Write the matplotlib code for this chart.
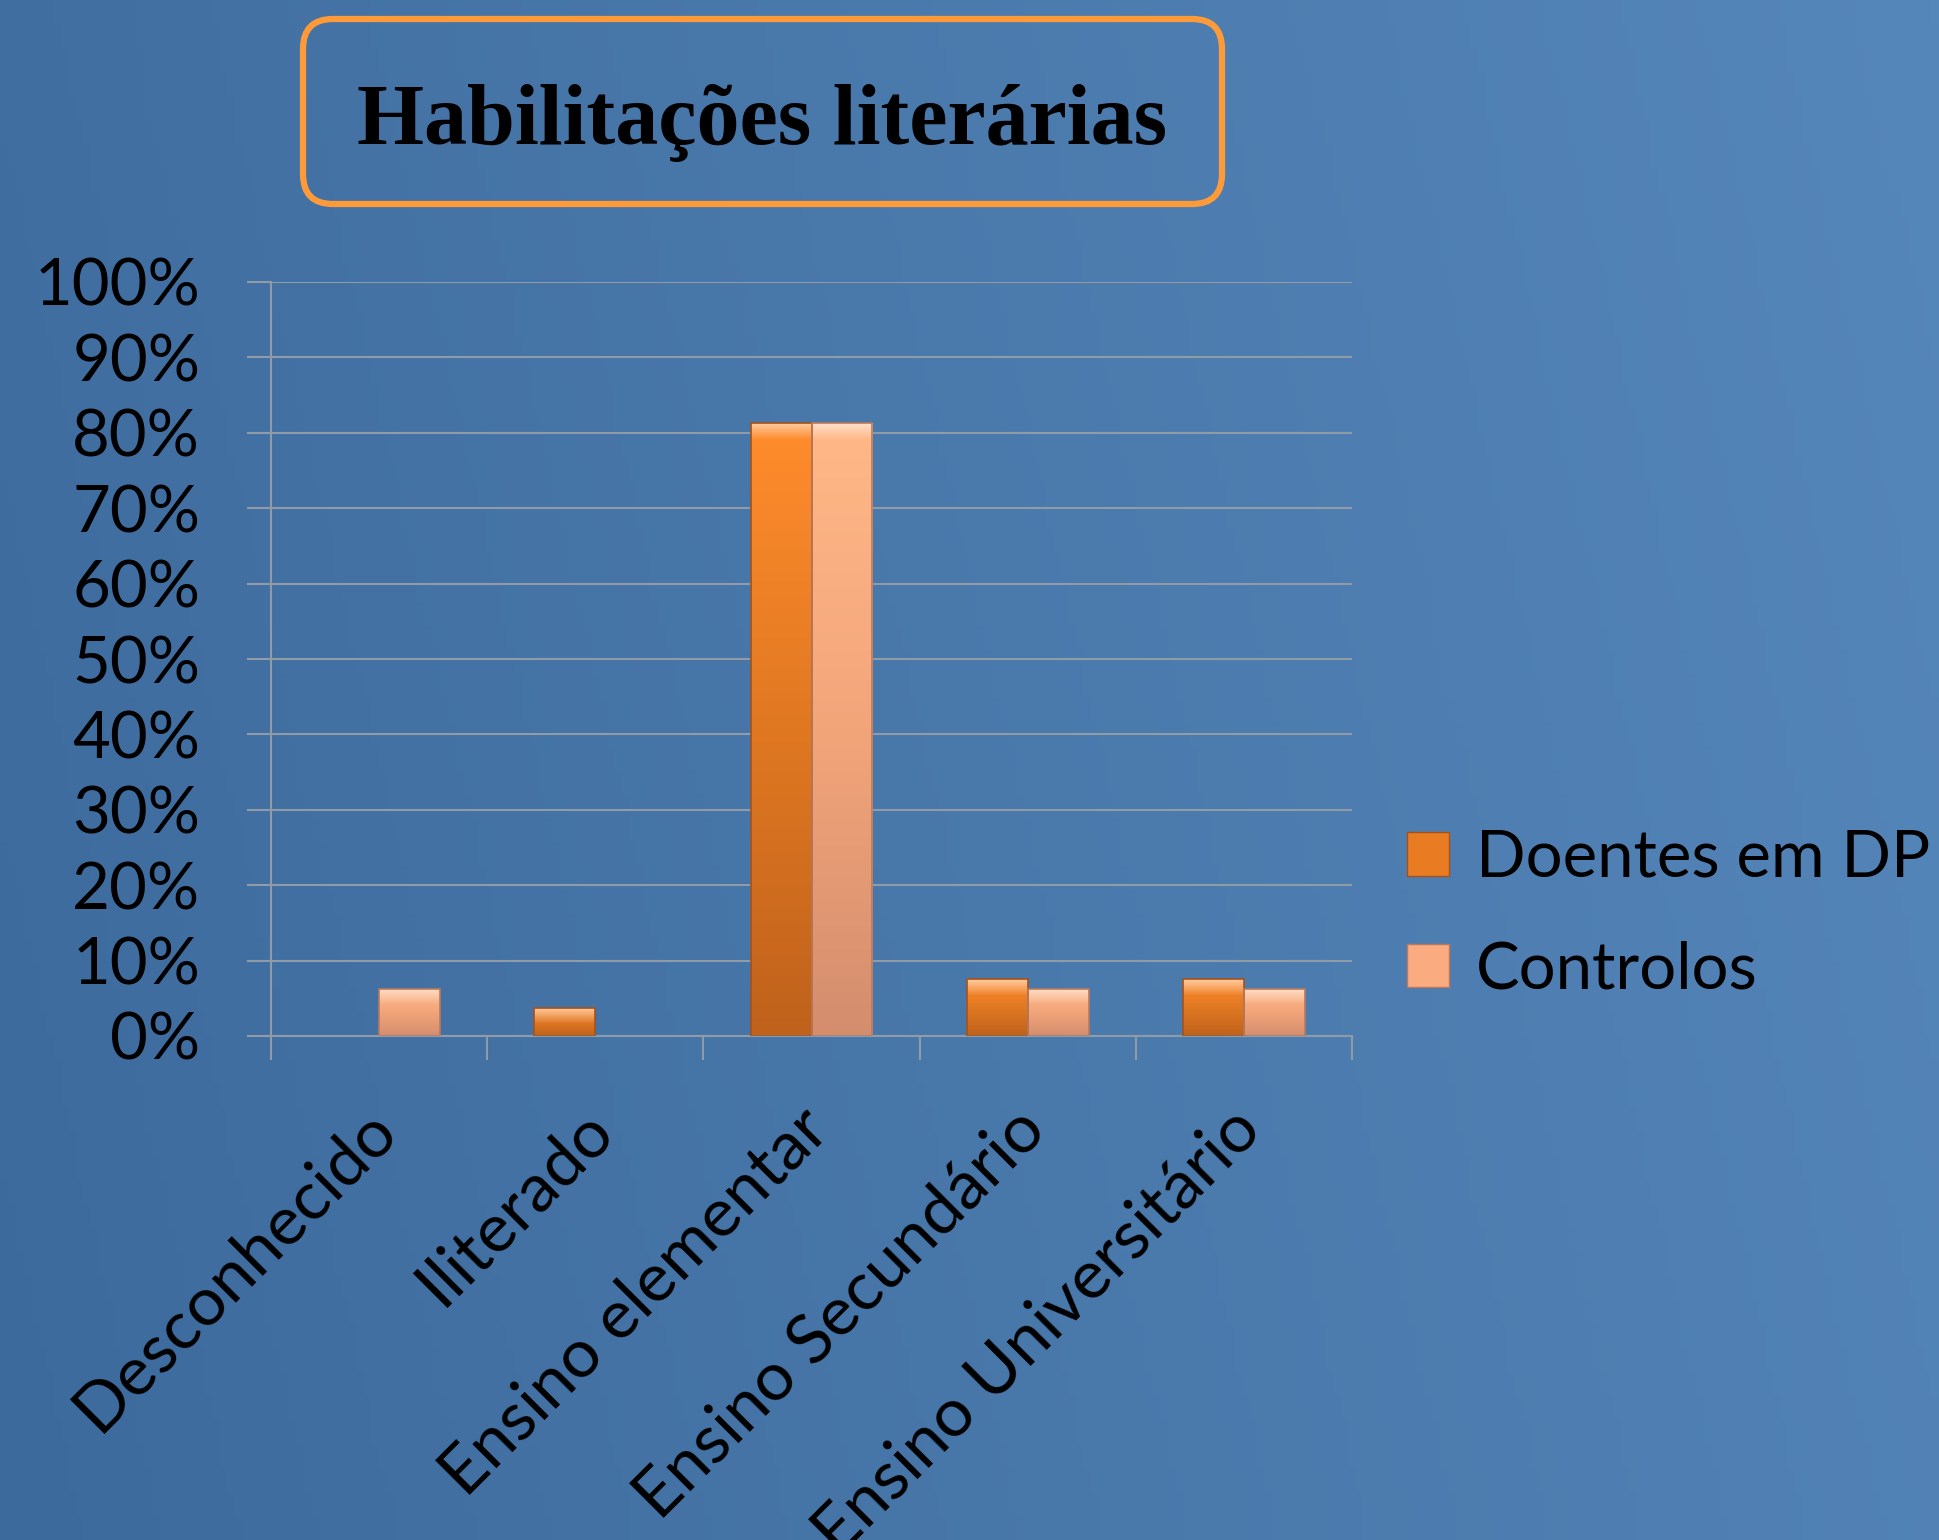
import numpy as np
import matplotlib.pyplot as plt
from matplotlib.patches import FancyBboxPatch, Rectangle
from matplotlib.colors import LinearSegmentedColormap
import matplotlib.transforms as mtransforms

# chart data (percent)
categories = ["Desconhecido", "Iliterado", "Ensino elementar",
              "Ensino Secundário", "Ensino Universitário"]
doentes = [0, 3.75, 81.25, 7.5, 7.5]
controlos = [6.25, 0, 81.25, 6.25, 6.25]
series_names = ["Doentes em DP", "Controlos"]
yticks = [0, 10, 20, 30, 40, 50, 60, 70, 80, 90, 100]
ytick_labels = [f"{v}%" for v in yticks]

W, H = 1939, 1540
fig = plt.figure(figsize=(W / 100, H / 100), dpi=100)

# background gradient
bg = fig.add_axes([0, 0, 1, 1], zorder=-10)
gx = np.linspace(0, 1, 256)
gy = np.linspace(0, 1, 64)[:, None]
left = np.array([61, 106, 157]) / 255
right = np.array([86, 135, 186]) / 255
t = (0.85 * gx[None, :] + 0.15 * (1 - gy))[..., None]
img = left * (1 - t) + right * t
bg.imshow(np.clip(img, 0, 1), aspect="auto", extent=[0, 1, 0, 1])
bg.axis("off")

ax = fig.add_axes([271 / W, 504 / H, (1352 - 271) / W, (1036 - 282) / H])
ax.set_facecolor("none")

grid_col = "#8f9ba6"
x = np.arange(len(categories))
bw = 0.282

dp_cmap = LinearSegmentedColormap.from_list("dp", ["#ff8c2c", "#e07822", "#c0621c"])
ct_cmap = LinearSegmentedColormap.from_list("ct", ["#ffb888", "#f3a57a", "#d48e6e"])


def gradient_bars(xs, vals, cmap, edge):
    for xi, v in zip(xs, vals):
        if v <= 0:
            continue
        b = ax.bar(xi, v, bw, align="edge", color="none", edgecolor=edge,
                   linewidth=1.2, zorder=3)[0]
        x0, w, h = b.get_x(), b.get_width(), b.get_height()
        grad = np.linspace(0, 1, 100)[:, None]
        im = ax.imshow(grad, cmap=cmap, aspect="auto", origin="upper",
                       extent=[x0, x0 + w, 0, h], zorder=2)
        im.set_clip_path(b)
        # soft highlight on the top edge (bevel look)
        hl = np.linspace(0.55, 0, 50)[:, None]
        rgba = np.ones((50, 1, 4))
        rgba[..., 3] = hl
        im2 = ax.imshow(rgba, aspect="auto", origin="upper",
                        extent=[x0, x0 + w, max(h - 2.2, 0), h], zorder=2.5)
        im2.set_clip_path(b)


gradient_bars(x - bw, doentes, dp_cmap, "#a4521a")
gradient_bars(x, controlos, ct_cmap, "#b87a5e")

ax.set_xlim(-0.5, len(categories) - 0.5)
ax.set_ylim(0, 100)

ax.set_yticks(yticks)
ax.set_yticklabels(ytick_labels)
ax.yaxis.grid(True, color=grid_col, linewidth=1.5, zorder=0)
ax.set_axisbelow(True)

ax.set_xticks(np.arange(-0.5, len(categories), 1.0))
ax.set_xticklabels([])
ax.set_xticks(x, minor=True)
ax.set_xticklabels(categories, minor=True, rotation=45, ha="right",
                   rotation_mode="anchor")

for s in ["top", "right"]:
    ax.spines[s].set_visible(False)
for s in ["left", "bottom"]:
    ax.spines[s].set_color(grid_col)
    ax.spines[s].set_linewidth(1.5)

font = ["Lato", "DejaVu Sans"]
ax.tick_params(axis="y", which="major", length=17, width=1.5, color=grid_col,
               pad=34, labelsize=47)
ax.tick_params(axis="x", which="major", length=17, width=1.5, color=grid_col)
ax.tick_params(axis="x", which="minor", length=0, pad=44, labelsize=49)
shift = mtransforms.ScaledTranslation(-15 / 100, 0, fig.dpi_scale_trans)
for lab in ax.get_xticklabels(minor=True):
    lab.set_transform(lab.get_transform() + shift)
for lab in ax.get_yticklabels() + ax.get_xticklabels(minor=True):
    lab.set_family(font)
    lab.set_color("black")

# legend
handles = [Rectangle((0, 0), 1, 1, fc="#e97c22", ec="#a4521a"),
           Rectangle((0, 0), 1, 1, fc="#fbab80", ec="#b87a5e")]
fig.legend(handles, series_names, loc="center left",
           bbox_to_anchor=(1407 / W, 1 - 914 / H), frameon=False,
           prop={"family": font, "size": 47}, handlelength=0.64,
           handleheight=0.64, handletextpad=0.42, labelspacing=0.8,
           borderaxespad=0, borderpad=0)

# title in rounded orange box
box = FancyBboxPatch((303, H - 204), 919, 185,
                     boxstyle="round,pad=0,rounding_size=30",
                     transform=mtransforms.IdentityTransform(),
                     fc="none", ec="#ff9a38", lw=4.5)
fig.add_artist(box)
fig.text(762 / W, 1 - 123 / H, "Habilitações literárias", ha="center",
         va="center", family="Liberation Serif", weight="bold", fontsize=62,
         color="black")

fig.savefig("out.png", dpi=100)
